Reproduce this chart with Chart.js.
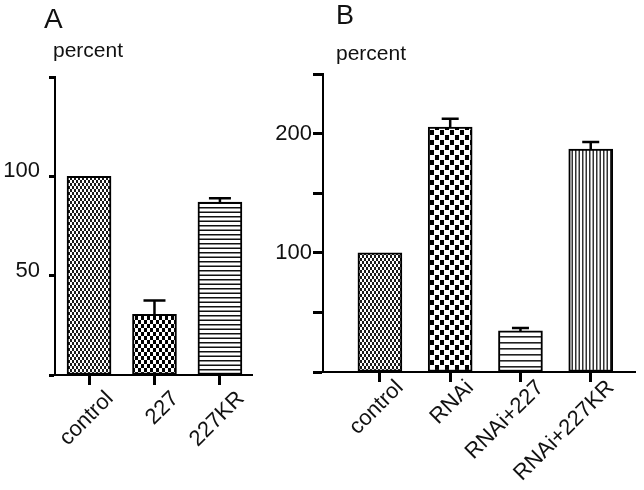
<!DOCTYPE html>
<html><head><meta charset="utf-8">
<script src="https://cdn.jsdelivr.net/npm/chart.js@4/dist/chart.umd.min.js"></script>
<style>
html,body{margin:0;padding:0;background:#fff;width:644px;height:490px;overflow:hidden;}
body{position:relative;font-family:"Liberation Sans",Arial,sans-serif;color:#111;}
.t{position:absolute;white-space:nowrap;}
#wa{position:absolute;left:0;top:0;width:320px;height:490px;}
#wb{position:absolute;left:260px;top:0;width:384px;height:490px;}
</style></head><body>
<div id="wa"><canvas id="ca"></canvas></div>
<div id="wb"><canvas id="cb"></canvas></div>
<div class="t" style="left:44px;top:5px;font-size:28px;line-height:28px">A</div>
<div class="t" style="left:53px;top:39px;font-size:21px;line-height:21px">percent</div>
<div class="t" style="left:336px;top:2px;font-size:27px;line-height:27px">B</div>
<div class="t" style="left:336px;top:42px;font-size:21px;line-height:21px">percent</div>
<script>
// ---- data ----
const catsA = ['control', '227', '227KR'];
const valsA = [100, 30.5, 87];
const errA = [0, 7, 2];
const yTicksA = [0, 50, 100, 150];
const yLabelsA = [50, 100];

const catsB = ['control', 'RNAi', 'RNAi+227', 'RNAi+227KR'];
const valsB = [100, 205.5, 34.5, 187];
const errB = [0, 7, 2.5, 6];
const yTicksB = [0, 50, 100, 150, 200, 250];
const yLabelsB = [100, 200];

// ---- patterns ----
function pat(w, h, draw) {
  const c = document.createElement('canvas');
  c.width = w; c.height = h;
  const g = c.getContext('2d');
  g.fillStyle = '#fff'; g.fillRect(0, 0, w, h);
  g.fillStyle = '#000';
  draw(g, w, h);
  return g.createPattern(c, 'repeat');
}
const pControl = pat(4, 6, g => { g.fillStyle = '#1a1a1a'; g.fillRect(0, 0, 2, 3); g.fillRect(2, 3, 2, 3); });
const pChkSmall = pat(6, 8, g => { g.fillRect(0, 0, 3, 4); g.fillRect(3, 4, 3, 4); });
const pHorizFine = pat(4, 9, (g, w) => { g.fillStyle = '#111'; g.fillRect(0, 0, w, 1.5); g.fillRect(0, 4.5, w, 1.5); });
const pChkBig = pat(10, 10, g => { g.fillRect(0, 0, 4, 5); g.fillRect(5, 5, 4, 5); });
const pHorizWide = pat(4, 6, (g, w) => { g.fillStyle = '#222'; g.fillRect(0, 0, w, 1.6); });
const pVert = pat(7, 4, (g, w, h) => { g.fillStyle = '#333'; g.fillRect(0, 0, 1.5, h); g.fillRect(3.5, 0, 1.5, h); });

// ---- error bars ----
const errPlugin = {
  id: 'errbars',
  afterDatasetsDraw(chart, args, opts) {
    const ds = chart.data.datasets[0];
    const meta = chart.getDatasetMeta(0);
    const y = chart.scales.y;
    const c = chart.ctx;
    c.save();
    c.strokeStyle = '#000';
    c.lineWidth = 2.5;
    meta.data.forEach((bar, i) => {
      const e = opts.errs[i];
      if (!e) return;
      const v = ds.data[i].y;
      const yt = y.getPixelForValue(v + e);
      const yb = y.getPixelForValue(v);
      c.beginPath();
      c.moveTo(bar.x, yb); c.lineTo(bar.x, yt);
      c.moveTo(bar.x - opts.cap / 2, yt); c.lineTo(bar.x + opts.cap / 2, yt);
      c.stroke();
    });
    c.restore();
  }
};

function makeChart(id, cats, vals, errs, yTicks, yLabels, pats, cfg) {
  return new Chart(document.getElementById(id), {
    type: 'bar',
    data: {
      datasets: [{
        data: cats.map((c, i) => ({ x: i, y: vals[i] })),
        backgroundColor: pats,
        borderColor: '#000',
        borderWidth: 2,
        borderSkipped: false,
        barThickness: 44
      }]
    },
    options: {
      responsive: true, maintainAspectRatio: false, animation: false,
      layout: { padding: { top: cfg.top, right: cfg.right, left: 0, bottom: 0 } },
      plugins: { legend: { display: false }, tooltip: { enabled: false }, errbars: { errs: errs, cap: cfg.cap } },
      scales: {
        x: {
          type: 'linear', min: cfg.xmin, max: cfg.xmax, offset: false,
          afterBuildTicks: s => { s.ticks = cats.map((c, i) => ({ value: i })); },
          afterFit: s => { s.height = cfg.xh; s.paddingLeft = 0; s.paddingRight = 0; },
          grid: { display: true, offset: false, drawOnChartArea: false, drawTicks: true, tickLength: 10, tickWidth: 3, tickColor: '#000' },
          border: { display: true, color: '#000', width: 2 },
          ticks: {
            autoSkip: false, minRotation: 45, maxRotation: 45, color: '#111',
            font: { family: 'Liberation Sans', size: 22 },
            padding: cfg.xpad, labelOffset: cfg.xoff,
            callback: v => cats[v]
          }
        },
        y: {
          type: 'linear', min: 0, max: yTicks[yTicks.length - 1],
          afterBuildTicks: s => { s.ticks = yTicks.map(v => ({ value: v })); },
          afterFit: s => { s.width = cfg.yw; s.paddingTop = 0; s.paddingBottom = 0; },
          grid: { display: true, offset: false, drawOnChartArea: false, drawTicks: true, tickLength: cfg.ytl, tickWidth: 3, tickColor: '#000' },
          border: { display: true, color: '#000', width: 2 },
          ticks: {
            color: '#111', font: { family: 'Liberation Sans', size: 22 },
            padding: cfg.ypad, labelOffset: cfg.yoff,
            callback: v => yLabels.includes(v) ? String(v) : ''
          }
        }
      }
    },
    plugins: [errPlugin]
  });
}

makeChart('ca', catsA, valsA, errA, yTicksA, yLabelsA, [pControl, pChkSmall, pHorizFine],
  { top: 77, right: 68, xh: 115, yw: 55, xmin: -0.52, xmax: 2.49, xpad: 1, xoff: 21, ytl: 6, ypad: 9, yoff: -5, cap: 22 });
makeChart('cb', catsB, valsB, errB, yTicksB, yLabelsB, [pControl, pChkBig, pHorizWide, pVert],
  { top: 74, right: 9, xh: 118, yw: 63, xmin: -0.81, xmax: 3.63, xpad: -7, xoff: 20, ytl: 10, ypad: 1, yoff: 0, cap: 17 });
</script>
</body></html>
